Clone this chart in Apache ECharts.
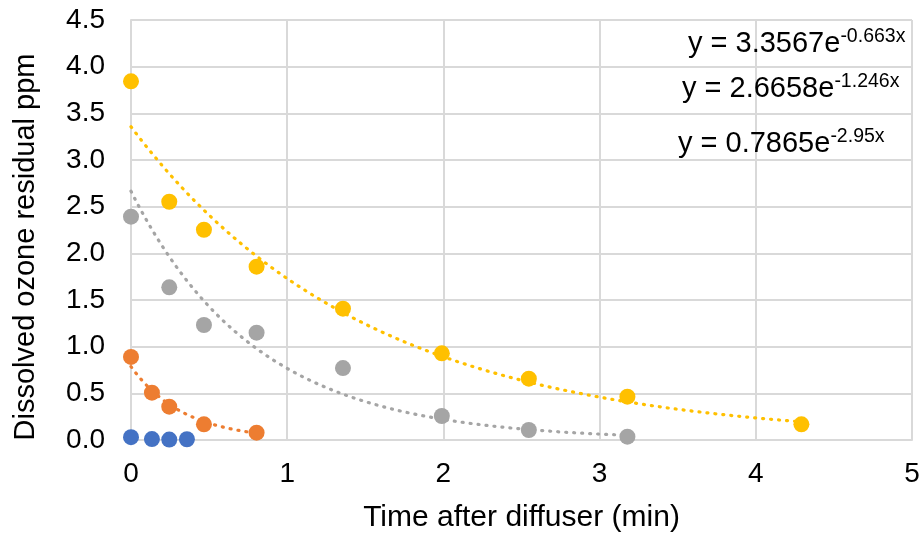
<!DOCTYPE html>
<html>
<head>
<meta charset="utf-8">
<script src="https://cdn.jsdelivr.net/npm/echarts@6/dist/echarts.min.js"></script>
<style>html,body{margin:0;padding:0;background:#fff}#c{width:922px;height:535px}</style>
</head>
<body>
<div id="c"></div>
<script>
// Data
const blueX   = [0, 0.134, 0.245, 0.358];
const blueY   = [0.03, 0.01, 0.005, 0.008];
const orangeX = [0, 0.134, 0.245, 0.467, 0.804];
const orangeY = [0.89, 0.507, 0.357, 0.168, 0.079];
const grayX   = [0, 0.245, 0.467, 0.804, 1.357, 1.99, 2.547, 3.178];
const grayY   = [2.393, 1.636, 1.232, 1.15, 0.771, 0.257, 0.107, 0.036];
const yellowX = [0, 0.245, 0.467, 0.804, 1.357, 1.99, 2.547, 3.178, 4.292];
const yellowY = [3.843, 2.553, 2.253, 1.857, 1.407, 0.929, 0.657, 0.464, 0.168];

// Exponential trendline coefficients (as printed on the chart): y = a * e^(b x)
const trendA = [0.7865, 2.6658, 3.3567];
const trendB = [-2.95, -1.246, -0.663];
const trendLabels = ['y = 0.7865e', 'y = 2.6658e', 'y = 3.3567e'];
const trendExp = ['-2.95x', '-1.246x', '-0.663x'];

const xTicks = [0, 1, 2, 3, 4, 5];
const yTicks = [0, 0.5, 1, 1.5, 2, 2.5, 3, 3.5, 4, 4.5];

const colors = { blue: '#4472C4', orange: '#ED7D31', gray: '#A5A5A5', yellow: '#FFC000' };
const FONT = 'Liberation Sans';

function zip(xs, ys) { return xs.map((x, i) => [x, ys[i]]); }
function trend(a, b, x0, x1) {
  const pts = [];
  const n = 120;
  for (let i = 0; i <= n; i++) {
    const x = x0 + (x1 - x0) * i / n;
    pts.push([x, a * Math.exp(b * x)]);
  }
  return pts;
}

const dotLine = (c) => ({ color: c, width: 3.2, type: [1, 7], cap: 'round' });
const richStyle = {
  m: { fontSize: 29, fontFamily: FONT, fill: '#000', lineHeight: 34 },
  s: { fontSize: 19.5, fontFamily: FONT, fill: '#000', lineHeight: 15, verticalAlign: 'top' }
};

const chart = echarts.init(document.getElementById('c'), null, { renderer: 'canvas' });
chart.setOption({
  animation: false,
  textStyle: { fontFamily: FONT },
  grid: { left: 131, right: 10, top: 20, bottom: 95, containLabel: false, outerBoundsMode: 'none' },
  xAxis: {
    type: 'value', min: xTicks[0], max: xTicks[xTicks.length - 1], interval: 1,
    name: 'Time after diffuser (min)', nameLocation: 'middle', nameGap: 63,
    nameTextStyle: { fontSize: 30, color: '#000', fontFamily: FONT },
    axisLine: { show: true, lineStyle: { color: '#d9d9d9', width: 2 } },
    axisTick: { show: false },
    axisLabel: { fontSize: 28, color: '#000', margin: 20, fontFamily: FONT },
    splitLine: { show: true, lineStyle: { color: '#d9d9d9', width: 2 } }
  },
  yAxis: {
    type: 'value', min: yTicks[0], max: yTicks[yTicks.length - 1], interval: 0.5,
    name: 'Dissolved ozone residual ppm', nameLocation: 'middle', nameGap: 91,
    nameTextStyle: { fontSize: 29, color: '#000', fontFamily: FONT, padding: [0, 34, 0, 0] },
    axisLine: { show: true, lineStyle: { color: '#d9d9d9', width: 2 } },
    axisTick: { show: false },
    axisLabel: { fontSize: 28, color: '#000', margin: 26, fontFamily: FONT, formatter: v => v.toFixed(1) },
    splitLine: { show: true, lineStyle: { color: '#d9d9d9', width: 2 } }
  },
  series: [
    { type: 'line', data: trend(trendA[0], trendB[0], orangeX[0], orangeX[orangeX.length - 1]), showSymbol: false, lineStyle: dotLine(colors.orange), z: 2, silent: true },
    { type: 'line', data: trend(trendA[1], trendB[1], grayX[0], grayX[grayX.length - 1]), showSymbol: false, lineStyle: dotLine(colors.gray), z: 2, silent: true },
    { type: 'line', data: trend(trendA[2], trendB[2], yellowX[0], yellowX[yellowX.length - 1]), showSymbol: false, lineStyle: dotLine(colors.yellow), z: 2, silent: true },
    { type: 'scatter', data: zip(blueX, blueY), symbolSize: 16, itemStyle: { color: colors.blue, opacity: 1 }, z: 3 },
    { type: 'scatter', data: zip(orangeX, orangeY), symbolSize: 16, itemStyle: { color: colors.orange, opacity: 1 }, z: 3 },
    { type: 'scatter', data: zip(grayX, grayY), symbolSize: 16, itemStyle: { color: colors.gray, opacity: 1 }, z: 3 },
    { type: 'scatter', data: zip(yellowX, yellowY), symbolSize: 16, itemStyle: { color: colors.yellow, opacity: 1 }, z: 3 }
  ],
  graphic: [
    { type: 'text', left: 688, top: 27, z: 10, style: { rich: richStyle, text: '{m|' + trendLabels[2] + '}{s|' + trendExp[2] + '}' } },
    { type: 'text', left: 682, top: 72, z: 10, style: { rich: richStyle, text: '{m|' + trendLabels[1] + '}{s|' + trendExp[1] + '}' } },
    { type: 'text', left: 678, top: 127, z: 10, style: { rich: richStyle, text: '{m|' + trendLabels[0] + '}{s|' + trendExp[0] + '}' } }
  ]
});
</script>
</body>
</html>
